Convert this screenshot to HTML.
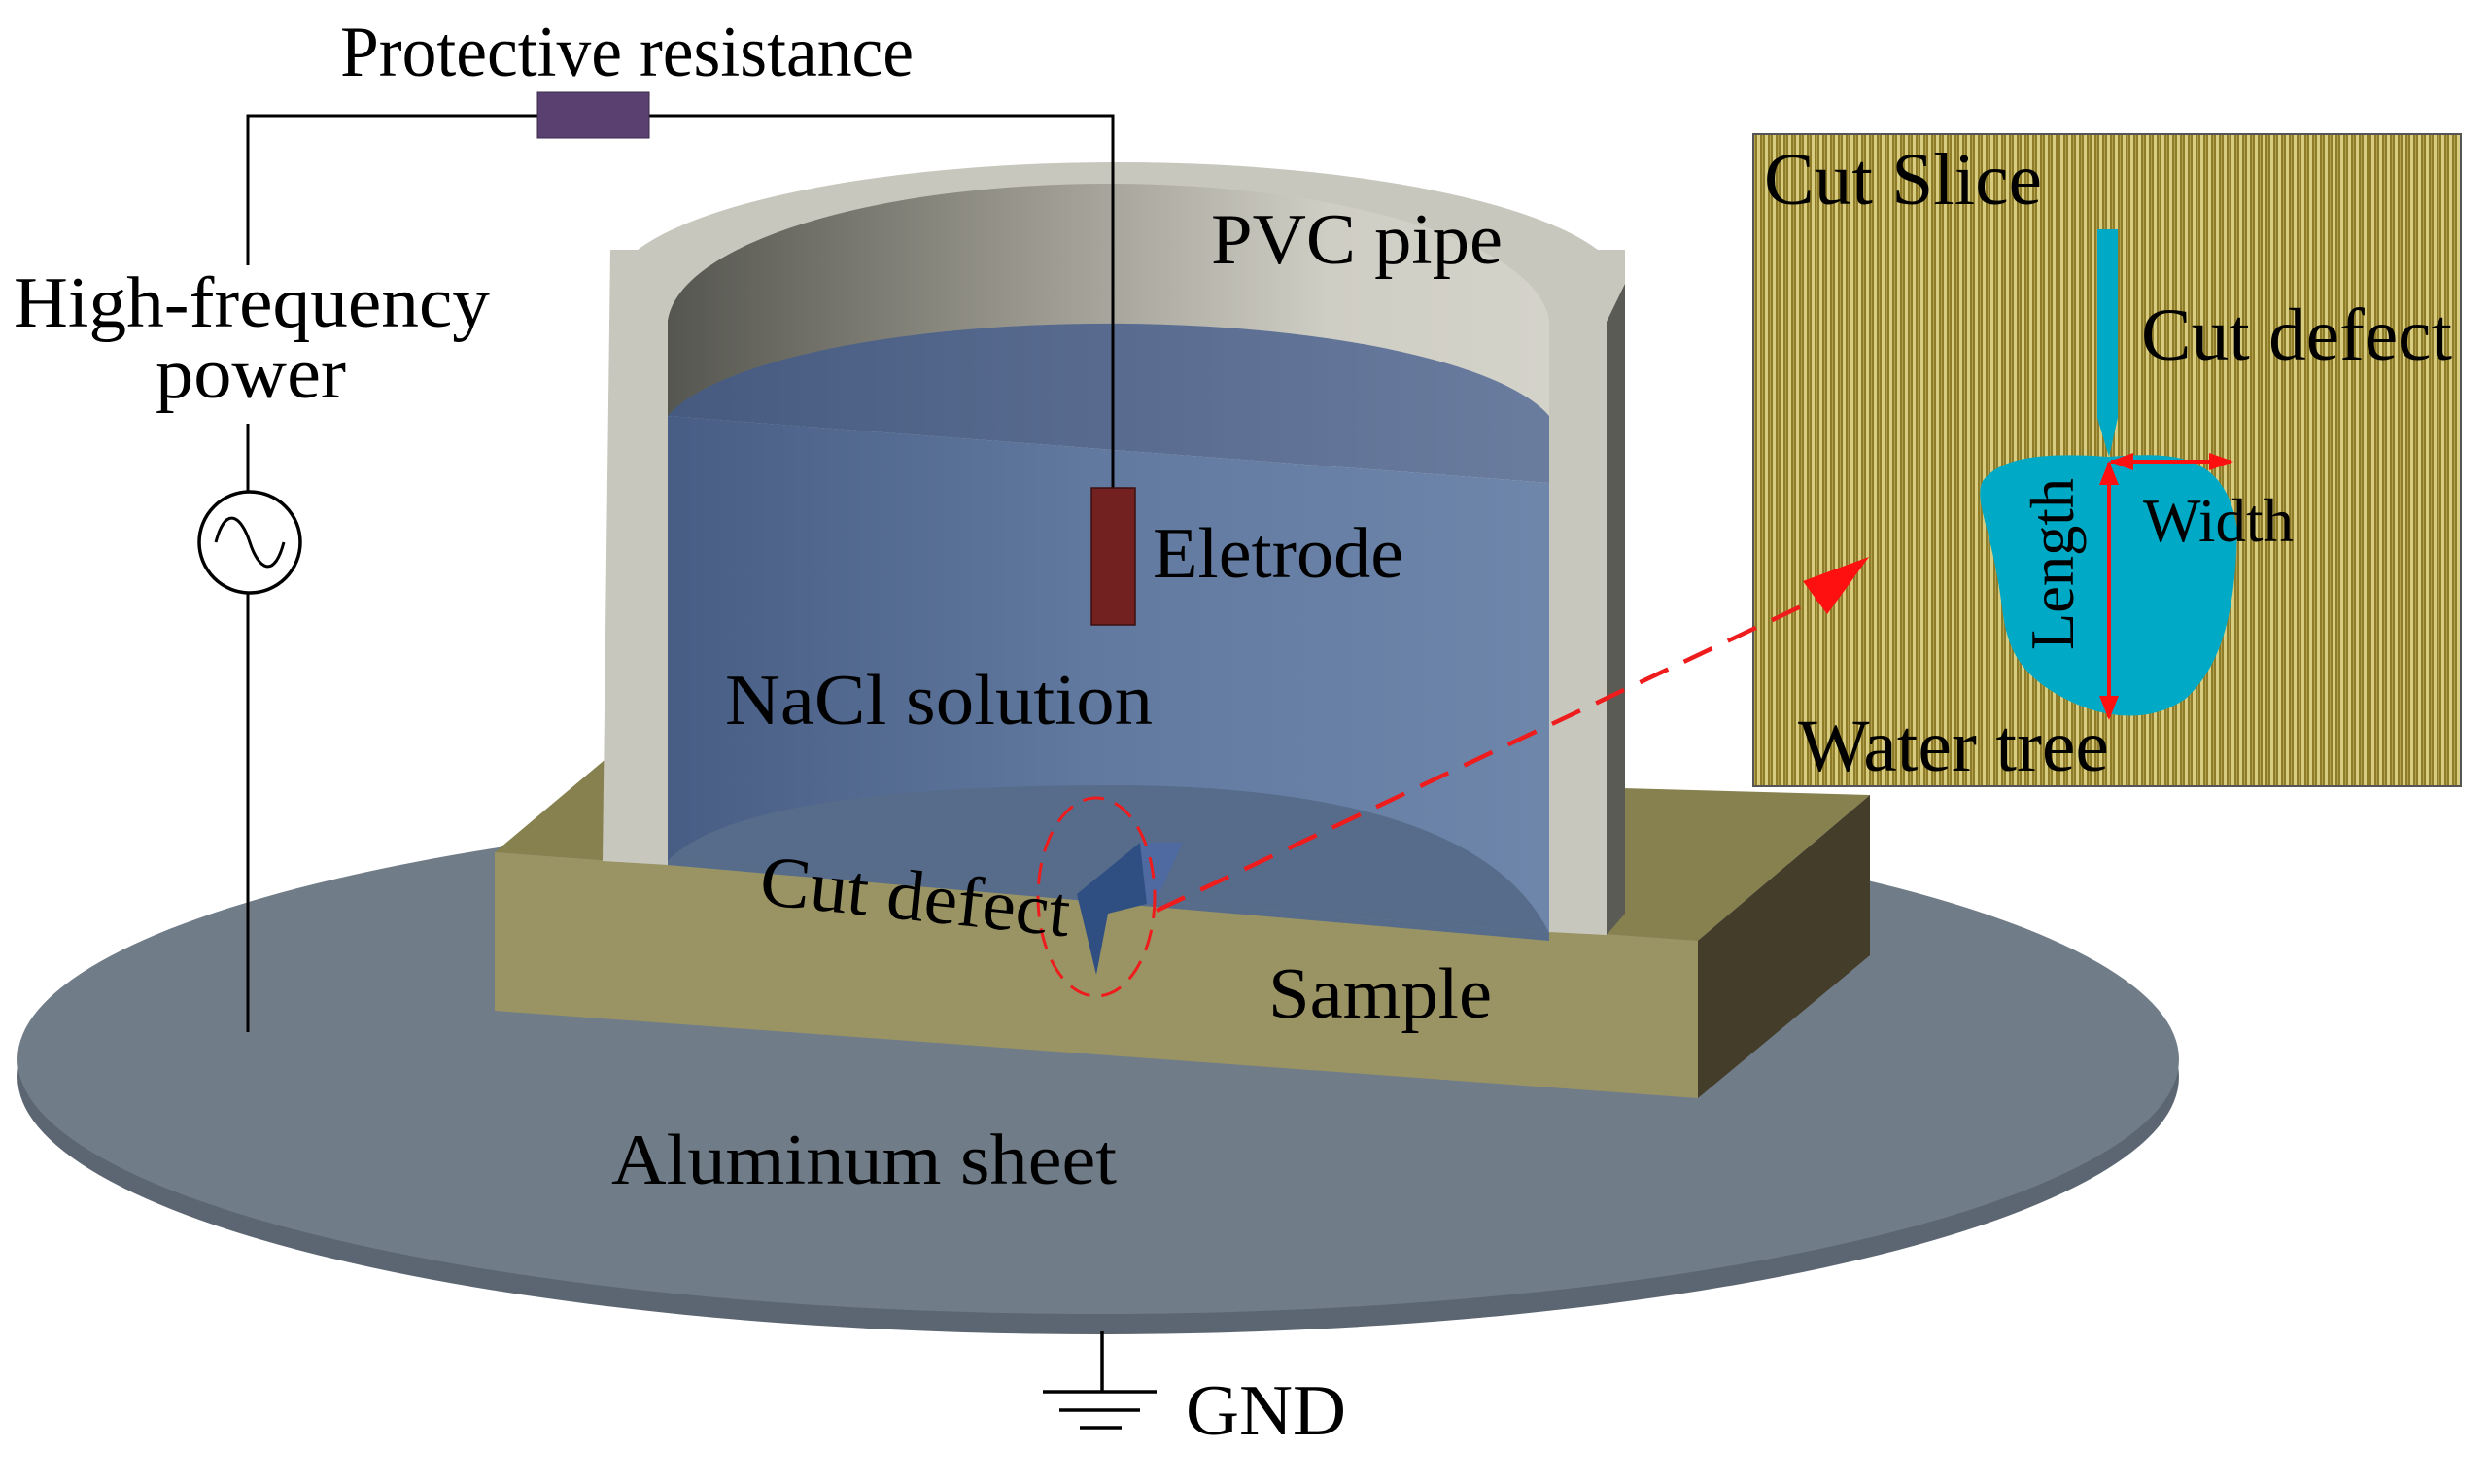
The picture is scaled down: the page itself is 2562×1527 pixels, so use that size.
<!DOCTYPE html>
<html><head><meta charset="utf-8"><style>html,body{margin:0;padding:0;background:#fff}svg{display:block}</style></head>
<body>
<svg width="2562" height="1527" viewBox="0 0 2562 1527" xmlns="http://www.w3.org/2000/svg" font-family="'Liberation Serif', serif">
<defs>
<linearGradient id="inw" x1="0" x2="1" y1="0" y2="0">
<stop offset="0" stop-color="#55564f"/><stop offset="0.45" stop-color="#a09e94"/><stop offset="0.75" stop-color="#cfcec4"/><stop offset="1" stop-color="#d4d3ca"/></linearGradient>
<linearGradient id="wat" x1="0" x2="1" y1="0" y2="0">
<stop offset="0" stop-color="#485d84"/><stop offset="0.5" stop-color="#627aa0"/><stop offset="1" stop-color="#6e86aa"/></linearGradient>
<linearGradient id="surf" x1="0" x2="1" y1="0" y2="0">
<stop offset="0" stop-color="#465a80"/><stop offset="1" stop-color="#6b7d9f"/></linearGradient>
<pattern id="stripe" width="8" height="4" patternUnits="userSpaceOnUse">
<rect width="8" height="4" fill="#8e7c28"/><rect x="0" width="3" height="4" fill="#d8cc80"/><rect x="5" width="1" height="4" fill="#b0a050"/></pattern>
</defs>
<!-- aluminum disc -->
<ellipse cx="1130" cy="1108" rx="1112" ry="265" fill="#5c6672"/>
<ellipse cx="1130" cy="1090" rx="1112" ry="262" fill="#707c88"/>
<!-- block -->
<polygon points="622,782 1924,818 1747,968 509,877" fill="#87804f"/>
<polygon points="509,877 1747,968 1747,1130 509,1040" fill="#9a9464"/>
<polygon points="1747,968 1924,818 1924,983 1747,1130" fill="#433d2a"/>
<!-- cylinder -->
<ellipse cx="1150" cy="300" rx="522" ry="133" fill="#c8c7bd"/>
<rect x="628" y="257" width="1044" height="43" fill="#c8c7bd"/>
<path d="M687,330 A454,148 0 0 1 1594,330 L1594,497 L687,428 Z" fill="url(#inw)"/>
<!-- water -->
<path d="M687,428 A460,120 0 0 1 1594,480 L1594,497 Z" fill="url(#surf)"/>
<path d="M687,428 L1594,497 L1594,960 L687,886 Z" fill="url(#wat)"/>
<path d="M687,886 Q760,808 1150,808 Q1520,810 1594,960 Z" fill="#566c8a"/>
<path d="M687,886 L1594,960 L1594,968 L687,890 Z" fill="#566c8a"/>
<!-- walls -->
<polygon points="628,257 687,257 687,890 620,886" fill="#c8c7bd"/>
<polygon points="1594,331 1653,331 1653,962 1594,959" fill="#c8c7bd"/>
<polygon points="1653,331 1672,292 1672,940 1653,962" fill="#5a5b55"/>
<!-- cut defect 3D -->
<polygon points="1108,920 1173,867 1180,930 1140,940 1128,1003" fill="#2f4f82"/>
<polygon points="1173,867 1217,867 1188,930 1180,930" fill="#4e6aa0"/>
<ellipse cx="1128" cy="923" rx="60" ry="102" fill="none" stroke="#ee1c1c" stroke-width="3" stroke-dasharray="22,12"/>
<!-- circuit -->
<polyline points="255,273 255,119 1145,119 1145,502" fill="none" stroke="#000" stroke-width="3"/>
<rect x="553" y="95" width="115" height="47" fill="#5a4070" stroke="#3a2a4a" stroke-width="1"/>
<line x1="255" y1="436" x2="255" y2="1062" stroke="#000" stroke-width="3"/>
<circle cx="257" cy="558" r="52" fill="#fff" stroke="#000" stroke-width="3.5"/>
<path d="M222,558 C232,520 248,530 257,558 C266,586 282,596 292,558" fill="none" stroke="#000" stroke-width="3"/>
<rect x="1123" y="502" width="45" height="141" fill="#722020" stroke="#3a1010" stroke-width="1.5"/>
<!-- ground -->
<line x1="1134" y1="1370" x2="1134" y2="1432" stroke="#000" stroke-width="3.5"/>
<line x1="1073" y1="1432" x2="1190" y2="1432" stroke="#000" stroke-width="3.5"/>
<line x1="1090" y1="1451" x2="1173" y2="1451" stroke="#000" stroke-width="3.5"/>
<line x1="1111" y1="1469" x2="1154" y2="1469" stroke="#000" stroke-width="3.5"/>
<!-- labels -->
<g font-size="74" fill="#000">
<text x="350" y="78" textLength="590" lengthAdjust="spacingAndGlyphs">Protective resistance</text>
<text x="14" y="336" textLength="490" lengthAdjust="spacingAndGlyphs">High-frequency</text>
<text x="160" y="409" textLength="196" lengthAdjust="spacingAndGlyphs">power</text>
<text x="1246" y="271" textLength="300" lengthAdjust="spacingAndGlyphs">PVC pipe</text>
<text x="1186" y="594" textLength="258" lengthAdjust="spacingAndGlyphs">Eletrode</text>
<text x="746" y="745" textLength="440" lengthAdjust="spacingAndGlyphs">NaCl solution</text>
<text x="780" y="930" textLength="320" lengthAdjust="spacingAndGlyphs" transform="rotate(6 780 930)">Cut defect</text>
<text x="1305" y="1047" textLength="230" lengthAdjust="spacingAndGlyphs">Sample</text>
<text x="629" y="1218" textLength="520" lengthAdjust="spacingAndGlyphs">Aluminum sheet</text>
<text x="1220" y="1476" textLength="165" lengthAdjust="spacingAndGlyphs">GND</text>
</g>
<!-- cut slice panel -->
<rect x="1804" y="138" width="728" height="671" fill="url(#stripe)" stroke="#555" stroke-width="2"/>
<path d="M2158,236 L2179,236 L2179,430 L2170,470 L2158,430 Z" fill="#00a9c6"/>
<path d="M2170,470 C2230,466 2290,462 2302,545 C2300,620 2290,680 2250,718 C2220,740 2180,742 2140,726 C2080,700 2065,670 2060,625 C2050,545 2030,515 2040,495 C2060,468 2110,466 2170,470 Z" fill="#00aac6"/>
<g stroke="#ff1010" stroke-width="4" fill="#ff1010">
<line x1="2170" y1="476" x2="2170" y2="738"/>
<polygon points="2170,474 2160,499 2180,499" stroke="none"/>
<polygon points="2170,741 2160,716 2180,716" stroke="none"/>
<line x1="2172" y1="475" x2="2296" y2="475"/>
<polygon points="2170,475 2195,466 2195,484" stroke="none"/>
<polygon points="2298,475 2273,466 2273,484" stroke="none"/>
</g>
<line x1="1190" y1="937" x2="1870" y2="616" stroke="#ee1c1c" stroke-width="4.5" stroke-dasharray="32,18"/>
<polygon points="1923,573 1855,598 1880,632" fill="#ff1010"/>
<g font-size="76" fill="#000">
<text x="1815" y="210" textLength="286" lengthAdjust="spacingAndGlyphs">Cut Slice</text>
<text x="2203" y="370" textLength="320" lengthAdjust="spacingAndGlyphs">Cut defect</text>
<text x="2205" y="557" font-size="64" textLength="155" lengthAdjust="spacingAndGlyphs">Width</text>
<text x="0" y="0" font-size="64" textLength="177" lengthAdjust="spacingAndGlyphs" transform="translate(2133,669) rotate(-90)">Length</text>
<text x="1850" y="793" textLength="320" lengthAdjust="spacingAndGlyphs">Water tree</text>
</g>
</svg>
</body></html>
